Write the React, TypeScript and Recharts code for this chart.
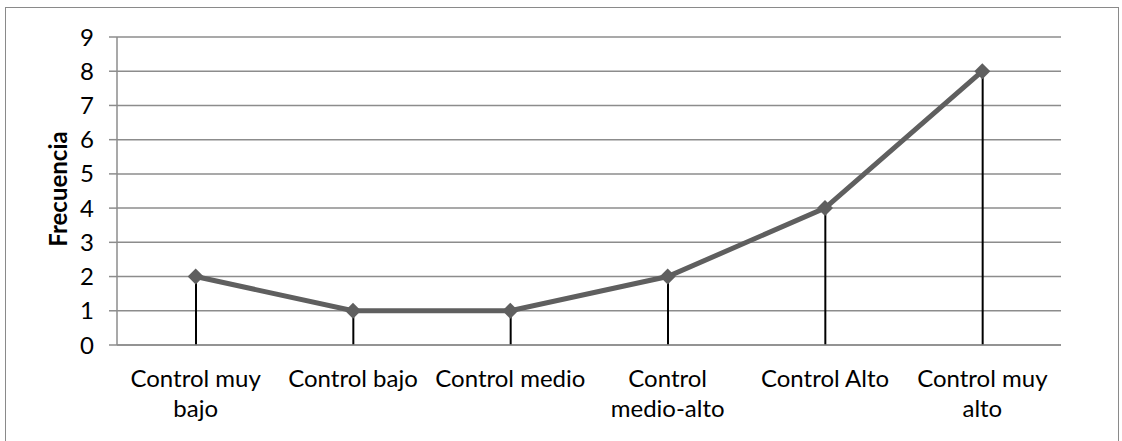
import React from 'react';
import { ComposedChart, Line, Bar, XAxis, YAxis, CartesianGrid, Label } from 'recharts';

const categories = ['Control muy bajo', 'Control bajo', 'Control medio', 'Control medio-alto', 'Control Alto', 'Control muy alto'];
const tickLines = [['Control muy', 'bajo'], ['Control bajo'], ['Control medio'], ['Control', 'medio-alto'], ['Control Alto'], ['Control muy', 'alto']];
const frecuencia = [2, 1, 1, 2, 4, 8];
const yTicks = [0, 1, 2, 3, 4, 5, 6, 7, 8, 9];

const data = categories.map((name, i) => ({ name, value: frecuencia[i], drop: frecuencia[i] }));

const FONT = 'Lato, "Open Sans", sans-serif';
const LINE_COLOR = '#5f5f5f';

const Diamond = (props: any) => {
  const { cx, cy } = props;
  if (cx == null || cy == null) return null;
  const r = 8;
  return <path d={`M${cx},${cy - r}L${cx + r},${cy}L${cx},${cy + r}L${cx - r},${cy}Z`} fill={LINE_COLOR} />;
};

const CategoryTick = (props: any) => {
  const { x, y, index } = props;
  const lines = tickLines[index] || [];
  return (
    <text x={x} y={y} textAnchor="middle" fill="#000" fontSize={24} fontFamily={FONT}>
      {lines.map((l, i) => (
        <tspan key={i} x={x} dy={i === 0 ? 34 : 30}>{l}</tspan>
      ))}
    </text>
  );
};

const YLabel = (props: any) => {
  const { viewBox } = props;
  const x = viewBox.x + 17;
  const y = viewBox.y + viewBox.height / 2 - 2;
  return (
    <text x={x} y={y} transform={`rotate(-90 ${x} ${y})`} textAnchor="middle" dominantBaseline="central"
      fontSize={24} fontWeight={700} fontFamily={FONT} fill="#000">
      Frecuencia
    </text>
  );
};

export default function App() {
  return (
    <div style={{ position: 'absolute', left: 0, top: 0, width: 1122, height: 441, background: '#fff' }}>
      <div style={{ position: 'absolute', left: 5, top: 7, width: 1114, height: 440, border: '1.5px solid #8a8a8a', boxSizing: 'border-box' }} />
      <ComposedChart width={1122} height={441} data={data} margin={{ top: 37, right: 61, bottom: 16, left: 40 }}>
        <CartesianGrid horizontal vertical={false} stroke="#8c8c8c" strokeWidth={1.5} />
        <XAxis dataKey="name" height={80} axisLine={{ stroke: '#8c8c8c', strokeWidth: 1.5 }} tickLine={false}
          tick={<CategoryTick />} interval={0} />
        <YAxis domain={[0, 9]} ticks={yTicks} width={77} axisLine={{ stroke: '#8c8c8c', strokeWidth: 1.5 }}
          tickLine={{ stroke: '#8c8c8c', strokeWidth: 1.5 }} tickSize={8} tickMargin={15}
          tick={{ fontSize: 24, fontFamily: FONT, fill: '#000' }}>
          <Label content={<YLabel />} />
        </YAxis>
        <Line dataKey="value" stroke={LINE_COLOR} strokeWidth={5} dot={<Diamond />} activeDot={false} isAnimationActive={false} />
        <Bar dataKey="drop" fill="#000" barSize={2} isAnimationActive={false} />
      </ComposedChart>
    </div>
  );
}
